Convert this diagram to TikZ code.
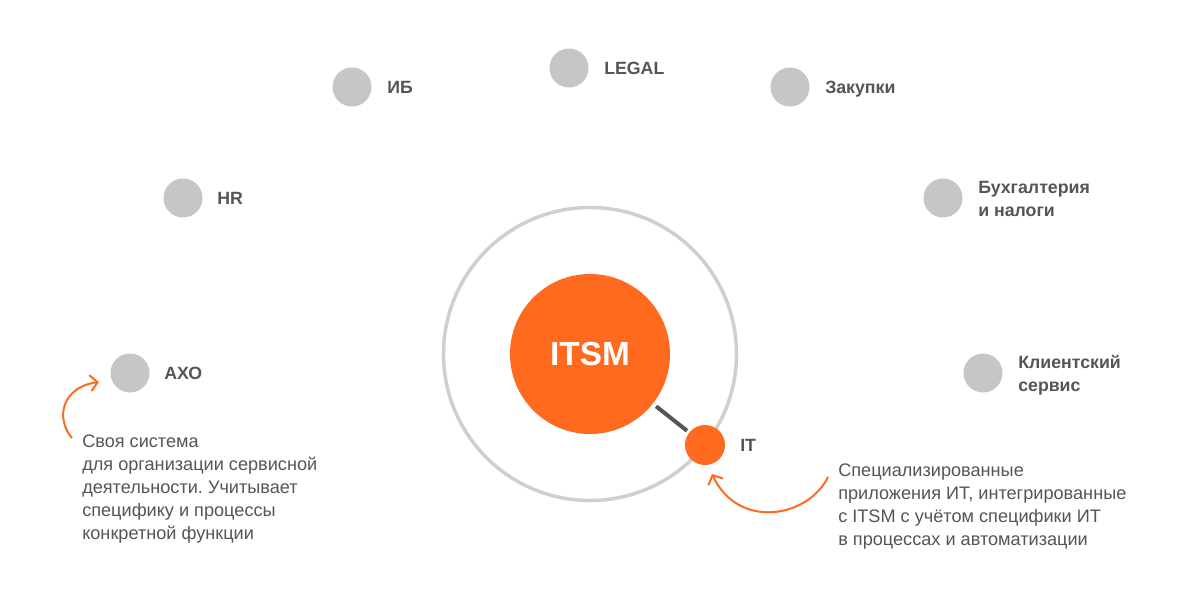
\documentclass[tikz,border=0pt]{standalone}
\usepackage{fontspec}
\setmainfont{Liberation Sans}
\frenchspacing
\usetikzlibrary{arrows.meta}
\definecolor{orng}{HTML}{FF6A1F}
\definecolor{dot}{HTML}{C6C6C6}
\definecolor{ring}{HTML}{CFCFCF}
\definecolor{txt}{HTML}{555555}
\definecolor{link}{HTML}{555555}
\tikzset{
  dept/.style={circle,fill=dot,minimum size=39*0.75pt,inner sep=0pt},
  lbl/.style={anchor=base west,inner sep=0pt,text=txt,font=\bfseries\fontsize{13.3}{17.25}\selectfont,align=left},
  note/.style={anchor=north west,inner sep=0pt,text=txt,font=\frenchspacing\fontsize{13.6}{17.1}\selectfont,align=left},
  callout/.style={draw=orng,line width=1.5pt,-{Straight Barb[length=5.5pt,width=12pt,line width=1.5pt]}}
}
\begin{document}
\begin{tikzpicture}[x=0.75pt,y=-0.75pt]
\useasboundingbox[fill=white] (0,0) rectangle (1180,596);
% ring
\node (ring) at (590,354) [circle,draw=ring,line width=2.6pt,minimum size=293*0.75pt,inner sep=0pt] {};
% ITSM
\node (itsm) at (590,354) [circle,fill=orng,minimum size=160*0.75pt,inner sep=0pt,text=white,font=\bfseries\fontsize{25}{29}\selectfont] {ITSM};
% IT
\node (it) at (705,445) [circle,fill=orng,minimum size=40*0.75pt,inner sep=0pt] {};
\draw[link,line width=3pt,shorten <=3pt,shorten >=2pt] (itsm) -- (it);
\node[lbl] (itl) at (740,451.5) {IT};
% departments
\node[dept] (ib) at (352,87) {};
\node[lbl] (ibl) at (387,93.5) {ИБ};
\node[dept] (legal) at (569,68) {};
\node[lbl] (legall) at (604,74.5) {LEGAL};
\node[dept] (zak) at (790,87) {};
\node[lbl] (zakl) at (825,93.5) {Закупки};
\node[dept] (hr) at (183,198) {};
\node[lbl] (hrl) at (217,204.5) {HR};
\node[dept] (buh) at (943,198) {};
\node[lbl] (buhl) at (978,216.5) {Бухгалтерия\\и налоги};
\node[dept] (axo) at (130,373) {};
\node[lbl] (axol) at (164,379.5) {АХО};
\node[dept] (kli) at (983,373) {};
\node[lbl] (klil) at (1018,391.5) {Клиентский\\сервис};
% notes
\node[note] (n1) at (82,435) {Своя система\\для организации сервисной\\деятельности. Учитывает\\специфику и процессы\\конкретной функции};
\node[note] (n2) at (838,464) {Специализированные\\приложения ИТ, интегрированные\\с ITSM с учётом специфики ИТ\\в процессах и автоматизации};
\coordinate (a1s) at (72,438);
\coordinate (a1e) at (99,382);
\coordinate (a2s) at (828,477);
\coordinate (a2e) at (712,474);
\draw[callout] (a1s) .. controls (55,418) and (62,387) .. (a1e);
\draw[callout] (a2s) .. controls (808,518) and (738,530) .. (a2e);
\end{tikzpicture}
\end{document}
